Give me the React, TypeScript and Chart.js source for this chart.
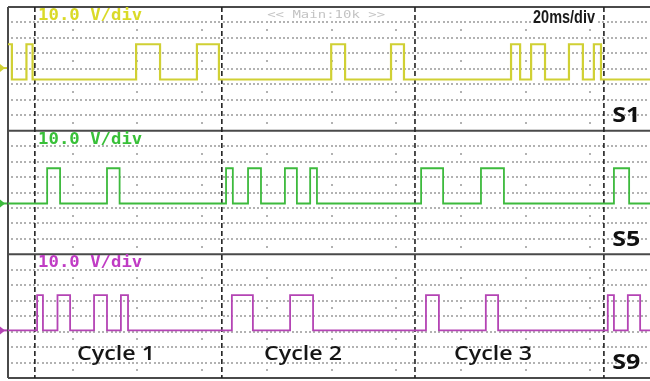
import React, { useEffect, useRef } from "react";
import { Chart, registerables } from "chart.js";
Chart.register(...registerables);

// ---- data (time in ms, 20 ms/div; levels in divisions, 10 V/div) ----
const channels = ["S1", "S5", "S9"];
const voltsPerDiv = "10.0 V/div";
const timeBase = "20ms/div";
const zoomInfo = "<< Main:10k >>";
const s1Pulses = [0, 1.2, 5.7, 7.6, 39.6, 47.0, 58.4, 65.2, 99.9, 104.2, 118.4, 122.4, 155.5, 158.3, 161.7, 166.0, 173.4, 177.7, 181.1, 183.3];
const s5Pulses = [12.1, 16.1, 30.6, 34.5, 67.4, 69.5, 74.2, 78.2, 85.6, 89.3, 93.4, 95.5, 127.7, 134.5, 146.2, 153.3, 187.3, 192.0];
const s9Pulses = [9.0, 10.8, 15.3, 19.2, 26.6, 30.6, 34.9, 37.1, 69.2, 75.7, 87.2, 94.3, 129.2, 133.2, 147.7, 151.5, 185.4, 187.3, 191.6, 195.4];
const groundLevels = [3.31, 3.29, 3.08];
const pulseAmplitude = 2.28;
const cycleBounds = [8.3, 66.1, 125.8, 184.2];
const cycleLabels = ["Cycle 1", "Cycle 2", "Cycle 3"];
const cycleLabelCenters = [33.4, 91.2, 149.9];

// ---- layout / style ----
const MS_PER_DIV = 20;
const X_MAX = 198.45;
const PANEL_DIVS = 8;
const NPANELS = 3;
const traceColors = ["#d0d034", "#3dba3d", "#b444b4"];
const textColors = ["#dada28", "#38c038", "#c03cc4"];
const markerOffsets = [0.74, 0, 0];

function buildTrace(edges: number[], panel: number) {
  const low = (NPANELS - 1 - panel) * PANEL_DIVS + groundLevels[panel];
  const high = low + pulseAmplitude;
  const pts: { x: number; y: number }[] = [];
  if (edges[0] > 0) pts.push({ x: 0, y: low });
  for (let i = 0; i + 1 < edges.length; i += 2) {
    const a = edges[i], b = edges[i + 1];
    if (a > 0) pts.push({ x: a, y: low });
    pts.push({ x: a, y: high });
    pts.push({ x: b, y: high });
    pts.push({ x: b, y: low });
  }
  pts.push({ x: X_MAX, y: low });
  return pts;
}

function drawFitted(ctx: CanvasRenderingContext2D, text: string, x: number, y: number, width: number, font: string, color: string, bg?: string) {
  ctx.save();
  ctx.font = font;
  const w = ctx.measureText(text).width;
  if (bg) {
    ctx.fillStyle = bg;
    ctx.fillRect(x - 2, y - 9, width + 4, 18);
  }
  ctx.translate(x, y);
  ctx.scale(width / w, 1);
  ctx.fillStyle = color;
  ctx.textBaseline = "middle";
  ctx.textAlign = "left";
  ctx.fillText(text, 0, 0);
  ctx.restore();
}

const scopePlugin = {
  id: "scope",
  beforeDraw(chart: any) {
    const ctx = chart.ctx as CanvasRenderingContext2D;
    ctx.save();
    ctx.fillStyle = "#ffffff";
    ctx.fillRect(0, 0, chart.width, chart.height);
    ctx.restore();
  },
  beforeDatasetsDraw(chart: any) {
    const ctx = chart.ctx as CanvasRenderingContext2D;
    const xs = chart.scales.x, ys = chart.scales.y;
    const area = chart.chartArea;
    const divW = xs.getPixelForValue(MS_PER_DIV) - xs.getPixelForValue(0);
    ctx.save();
    ctx.fillStyle = "#b2b2b2";
    for (let p = 0; p < NPANELS; p++) {
      const top = (NPANELS - p) * PANEL_DIVS;
      for (let r = 1; r < PANEL_DIVS; r++) {
        const y = Math.round(ys.getPixelForValue(top - r)) - 1;
        for (let x = area.left + divW / 15; x < area.right; x += divW / 15) {
          ctx.fillRect(Math.round(x) - 1, y, 2, 2);
        }
      }
      for (let c = 1; c * MS_PER_DIV < X_MAX; c++) {
        const x = Math.round(xs.getPixelForValue(c * MS_PER_DIV)) - 1;
        for (let h = 1.5; h < PANEL_DIVS; h += 2) {
          const y = Math.round(ys.getPixelForValue(top - h)) - 1;
          ctx.fillRect(x, y, 2, 2);
        }
      }
    }
    // panel borders
    ctx.strokeStyle = "#4a4a4a";
    ctx.lineWidth = 2;
    for (let p = 0; p <= NPANELS; p++) {
      const y = ys.getPixelForValue(p * PANEL_DIVS);
      ctx.beginPath();
      ctx.moveTo(area.left, y);
      ctx.lineTo(area.right, y);
      ctx.stroke();
    }
    ctx.beginPath();
    ctx.moveTo(area.left, area.top);
    ctx.lineTo(area.left, area.bottom);
    ctx.stroke();
    // cycle boundaries
    ctx.strokeStyle = "#222222";
    ctx.lineWidth = 1.6;
    ctx.setLineDash([5, 3]);
    cycleBounds.forEach((t) => {
      const x = xs.getPixelForValue(t);
      ctx.beginPath();
      ctx.moveTo(x, area.top);
      ctx.lineTo(x, area.bottom);
      ctx.stroke();
    });
    ctx.setLineDash([]);
    ctx.restore();
  },
  afterDatasetsDraw(chart: any) {
    const ctx = chart.ctx as CanvasRenderingContext2D;
    const xs = chart.scales.x, ys = chart.scales.y;
    const divW = xs.getPixelForValue(MS_PER_DIV) - xs.getPixelForValue(0);
    ctx.save();
    for (let p = 0; p < NPANELS; p++) {
      const top = (NPANELS - p) * PANEL_DIVS;
      drawFitted(ctx, voltsPerDiv, xs.getPixelForValue(9.3), ys.getPixelForValue(top - 0.58), divW * 1.61,
        "bold 15px 'DejaVu Sans Mono'", textColors[p]);
      drawFitted(ctx, channels[p], xs.getPixelForValue(186.8), ys.getPixelForValue(top - 7.05), 28,
        "bold 21px 'Open Sans'", "#111111");
      // ground marker
      const gy = ys.getPixelForValue((NPANELS - 1 - p) * PANEL_DIVS + groundLevels[p] + markerOffsets[p]);
      ctx.fillStyle = traceColors[p];
      ctx.beginPath();
      ctx.moveTo(0, gy - 4);
      ctx.lineTo(5, gy);
      ctx.lineTo(0, gy + 4);
      ctx.closePath();
      ctx.fill();
      ctx.fillRect(0, gy - 1, 7, 2);
    }
    drawFitted(ctx, zoomInfo, xs.getPixelForValue(80.1), ys.getPixelForValue(24 - 0.52), 118,
      "11px 'DejaVu Sans Mono'", "#c4c4c4");
    drawFitted(ctx, timeBase, xs.getPixelForValue(162.3), ys.getPixelForValue(24 - 0.72), 62,
      "bold 18px 'Liberation Sans'", "#1a1a1a", "#ffffff");
    cycleLabels.forEach((lab, i) => {
      const w = 78;
      drawFitted(ctx, lab, xs.getPixelForValue(cycleLabelCenters[i]) - w / 2, ys.getPixelForValue(1.52), w,
        "600 20px 'Open Sans'", "#151515");
    });
    ctx.restore();
  },
};

export default function App() {
  const ref = useRef<HTMLCanvasElement | null>(null);
  useEffect(() => {
    document.body.style.margin = "0";
    if (!ref.current) return;
    const traces = [s1Pulses, s5Pulses, s9Pulses];
    const chart = new Chart(ref.current, {
      type: "line",
      data: {
        datasets: traces.map((edges, p) => ({
          label: channels[p],
          data: buildTrace(edges, p),
          borderColor: traceColors[p],
          borderWidth: p === 0 ? 2.2 : 1.8,
          pointRadius: 0,
          tension: 0,
          fill: false,
        })),
      },
      options: {
        animation: false,
        responsive: false,
        devicePixelRatio: 1,
        layout: { padding: { left: 8, top: 7, right: 0, bottom: 3 } },
        scales: {
          x: { type: "linear", min: 0, max: X_MAX, display: false },
          y: { type: "linear", min: 0, max: NPANELS * PANEL_DIVS, display: false },
        },
        plugins: { legend: { display: false }, tooltip: { enabled: false } },
      },
      plugins: [scopePlugin],
    });
    return () => chart.destroy();
  }, []);
  return (
    <div style={{ width: 650, height: 381 }}>
      <canvas ref={ref} width={650} height={381} />
    </div>
  );
}
